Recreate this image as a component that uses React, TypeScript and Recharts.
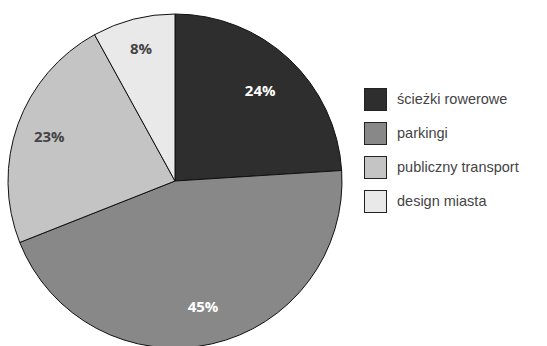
import React from "react";
import { PieChart, Pie, Cell, Legend } from "recharts";

const categories = ["ścieżki rowerowe", "parkingi", "publiczny transport", "design miasta"];
const shares = [24, 45, 23, 8];
const fills = ["#2e2e2e", "#888888", "#c4c4c4", "#e9e9e9"];
const labelColors = ["#ffffff", "#ffffff", "#444444", "#444444"];
// how far out each percentage sits, as a share of the radius
const labelRadius = [0.745, 0.77, 0.8, 0.82];

const data = categories.map((name, i) => ({ name, value: shares[i] }));

const RADIAN = Math.PI / 180;

const renderLabel = (props: any) => {
  const { cx, cy, midAngle, outerRadius, index } = props;
  const r = outerRadius * labelRadius[index];
  const x = cx + r * Math.cos(-midAngle * RADIAN);
  const y = cy + r * Math.sin(-midAngle * RADIAN);
  return (
    <text
      x={x}
      y={y}
      fill={labelColors[index]}
      textAnchor="middle"
      dominantBaseline="central"
      fontFamily="'Open Sans', sans-serif"
      fontWeight={700}
      fontSize={15}
    >
      {`${shares[index]}%`}
    </text>
  );
};

const renderLegend = () => (
  <div style={{ fontFamily: "'Liberation Sans', Arial, sans-serif" }}>
    {categories.map((c, i) => (
      <div key={c} style={{ display: "flex", alignItems: "center", height: 34 }}>
        <div
          style={{
            width: 21,
            height: 21,
            background: fills[i],
            border: "1px solid #222",
            marginRight: 10,
          }}
        />
        <span style={{ fontSize: 14.5, color: "#444" }}>{c}</span>
      </div>
    ))}
  </div>
);

export default function App() {
  return (
    <div style={{ position: "absolute", left: 0, top: 0, width: 547, height: 346, background: "#fff" }}>
      <PieChart width={547} height={346}>
        <Pie
          data={data}
          dataKey="value"
          nameKey="name"
          cx={170}
          cy={176}
          outerRadius={167}
          startAngle={90}
          endAngle={-270}
          stroke="#111"
          strokeWidth={1}
          label={renderLabel}
          labelLine={false}
          isAnimationActive={false}
        >
          {data.map((d, i) => (
            <Cell key={d.name} fill={fills[i]} />
          ))}
        </Pie>
        <Legend
          content={renderLegend}
          layout="vertical"
          wrapperStyle={{ left: 364, top: 82, width: 180 }}
        />
      </PieChart>
    </div>
  );
}
